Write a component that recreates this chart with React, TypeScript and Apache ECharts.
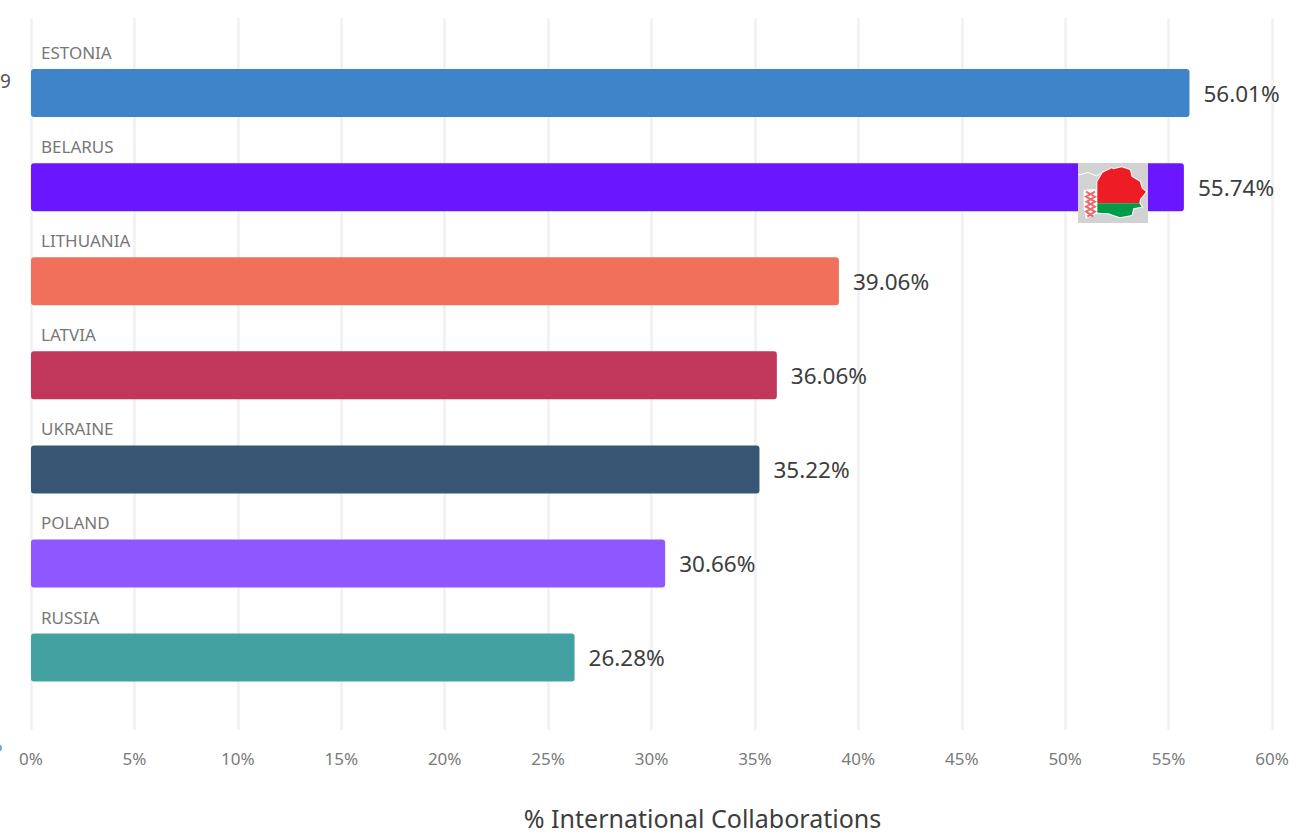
import React, { useEffect, useRef } from "react";
import * as echarts from "echarts";

const categories = ["ESTONIA", "BELARUS", "LITHUANIA", "LATVIA", "UKRAINE", "POLAND", "RUSSIA"];
const values = [56.01, 55.74, 39.06, 36.06, 35.22, 30.66, 26.28];
const colors = ["#3f84c8", "#6a16ff", "#f0705b", "#c1375c", "#375673", "#8f57ff", "#43a1a2"];
const font = "'Noto Sans', sans-serif";

// Flag outline, in zoom-crop coordinates mapped onto the picture below
const Z = (x: number, y: number) => [1050 + x / 3, 140 + y / 3];
const redShape = [[142,125],[158,98],[185,85],[190,88],[215,82],[240,90],[245,110],[270,125],[275,145],[288,155],[270,178],[268,190],[142,190]].map(p => Z(p[0], p[1]));
const greenShape = [[142,190],[268,190],[275,200],[250,205],[245,225],[210,232],[175,220],[142,218]].map(p => Z(p[0], p[1]));
const outline = [[142,125],[158,98],[185,85],[190,88],[215,82],[240,90],[245,110],[270,125],[275,145],[288,155],[270,178],[268,190],[275,200],[250,205],[245,225],[210,232],[175,220],[142,218],[110,232],[104,205],[104,152],[142,150]].map(p => Z(p[0], p[1]));
const ornament = [[108,155],[135,170],[110,185],[135,200],[108,215],[130,230]].map(p => Z(p[0], p[1]));
const ornament2 = [[135,155],[108,170],[135,185],[108,200],[135,215],[112,230]].map(p => Z(p[0], p[1]));
const border = [[84,105],[115,98],[140,108],[160,95]].map(p => Z(p[0], p[1]));

export default function App() {
  const ref = useRef<HTMLDivElement>(null);
  useEffect(() => {
    document.body.style.margin = "0";
    const chart = echarts.init(ref.current!, undefined, { renderer: "svg" });
    chart.setOption({
      animation: false,
      backgroundColor: "#fff",
      grid: [
        { left: 31, width: 1241, top: 18, height: 712, outerBoundsMode: "none" },
        { left: 31, width: 1241, top: 46, height: 658.6, outerBoundsMode: "none" },
      ],
      xAxis: [
        {
          gridIndex: 0, type: "value", min: 0, max: 60, interval: 5,
          axisLine: { show: false }, axisTick: { show: false },
          splitLine: { show: true, lineStyle: { color: "#f0f0f0", width: 2.5 } },
          axisLabel: { color: "#7a7a7a", fontSize: 17, fontFamily: font, margin: 20, formatter: "{value}%" },
          name: "% International Collaborations",
          nameLocation: "middle", nameGap: 75,
          nameTextStyle: { color: "#3d3d3d", fontSize: 25, fontFamily: font, padding: [0, 0, 0, 102] },
        },
        { gridIndex: 1, type: "value", min: 0, max: 60, show: false },
      ],
      yAxis: [
        { gridIndex: 0, type: "category", data: [""], show: false },
        {
          gridIndex: 1, type: "category", inverse: true, data: categories,
          axisLine: { show: false }, axisTick: { show: false }, splitLine: { show: false },
          axisLabel: { show: false },
        },
      ],
      series: [
        {
          type: "bar", xAxisIndex: 1, yAxisIndex: 1, barWidth: 48,
          data: values.map((v, i) => ({
            value: v,
            itemStyle: { color: colors[i], borderRadius: 3 },
          })),
          label: {
            show: true, position: "right", distance: 14, color: "#3d3d3d", fontSize: 22.5, fontFamily: font,
            formatter: (p: any) => p.value.toFixed(2) + "%",
          },
        },
        {
          type: "bar", xAxisIndex: 1, yAxisIndex: 1, barWidth: 48, barGap: "-100%",
          data: values,
          itemStyle: { color: "rgba(0,0,0,0)" },
          label: {
            show: true, position: [10, -25], color: "#777777", fontSize: 17, fontFamily: font,
            formatter: (p: any) => p.name,
          },
        },
      ],
      graphic: [
        { type: "text", z: 20, style: { x: 11, y: 81, text: "39", align: "right", verticalAlign: "middle", fill: "#555", fontSize: 19, fontFamily: font } },
        { type: "circle", z: 20, shape: { cx: -2, cy: 748, r: 4 }, style: { fill: "#5aa9e6" } },
        { type: "rect", z: 20, shape: { x: 1078, y: 163, width: 70, height: 60 }, style: { fill: "#d2d2d2" } },
        { type: "polyline", z: 21, shape: { points: border }, style: { stroke: "#fff", lineWidth: 1, fill: "none" } },
        { type: "polygon", z: 21, shape: { points: outline }, style: { fill: "#fff", stroke: "#fff", lineWidth: 2 } },
        { type: "polygon", z: 22, shape: { points: redShape }, style: { fill: "#ee1c25" } },
        { type: "polygon", z: 22, shape: { points: greenShape }, style: { fill: "#009b48" } },
        { type: "polyline", z: 22, shape: { points: ornament }, style: { stroke: "#ea6a6e", lineWidth: 2, fill: "none" } },
        { type: "polyline", z: 22, shape: { points: ornament2 }, style: { stroke: "#ea6a6e", lineWidth: 2, fill: "none" } },
      ],
    });
    return () => chart.dispose();
  }, []);
  return <div ref={ref} style={{ position: "absolute", left: 0, top: 0, width: 1294, height: 833 }} />;
}
